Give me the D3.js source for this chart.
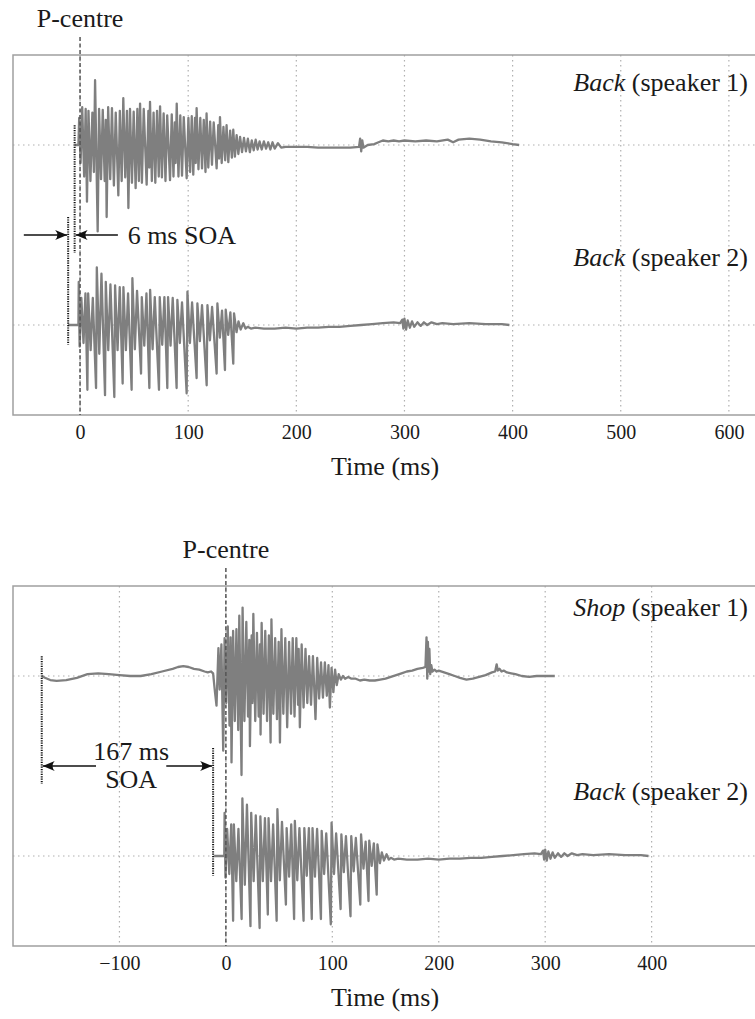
<!DOCTYPE html>
<html>
<head>
<meta charset="utf-8">
<script src="https://cdn.jsdelivr.net/npm/d3@7"></script>
<style>
  body { margin: 0; background: #fff; }
  text { font-family: "Liberation Serif", "Times New Roman", Times, serif; fill: #1a1a1a; }
</style>
</head>
<body>
<div id="chart"></div>
<script>
// Waveform samples: [time (ms) relative to the P-centre, amplitude]

// "Back", speaker 1
const backSpeaker1 = [
  [-5, 0], [-1.5, 0], [-0.8, 0.3], [0.5, -0.2], [2, 0.42], [3.8, -0.35], [5.2, 0.4], [6.4, -0.63],
  [7.8, 0.38], [9.6, -0.4], [11.4, 0.36], [12.8, -0.3], [13.9, 0.72], [16.3, -0.96], [17.6, 0.4],
  [19.4, -0.38], [21, 0.39], [22.8, -0.4], [23.8, 0.28], [24.6, -0.8], [26, 0.42], [27.9, -0.38],
  [29.5, 0.41], [31.3, -0.45], [33, 0.36], [35.4, -0.56], [36.8, 0.38], [38.5, -0.4], [40, 0.52],
  [41.8, -0.36], [43.4, 0.38], [44.7, -0.7], [46.2, 0.4], [48, -0.42], [49.6, 0.37], [51.4, -0.48],
  [53, 0.4], [54.4, -0.4], [55.5, 0.46], [57.2, -0.42], [58.9, 0.4], [61.6, -0.44], [63.2, 0.38],
  [64, -0.25], [64.7, 0.48], [66.4, -0.4], [68, 0.36], [69.6, -0.42], [71.2, 0.38], [72.8, -0.35],
  [74, 0.43], [75.7, -0.36], [77.3, 0.35], [79, -0.4], [80.6, 0.33], [83.2, -0.39], [84.8, 0.34],
  [86.4, -0.35], [87.6, 0.25], [88.4, -0.2], [89.4, 0.46], [91, -0.35], [92.7, 0.33], [94.3, -0.34],
  [95.9, 0.31], [98.6, -0.37], [100.2, 0.3], [101.8, -0.3], [103.3, 0.32], [104.7, -0.33],
  [106.3, 0.3], [107, -0.2], [107.8, 0.41], [109.5, -0.27], [111.2, 0.3], [112.8, -0.26],
  [114.4, 0.28], [116, -0.3], [117, 0.35], [118.6, -0.25], [120.3, 0.26], [122, -0.22], [123.6, 0.25],
  [126.3, -0.26], [127.8, 0.22], [128.6, -0.15], [129.4, 0.31], [131, -0.2], [132.6, 0.2],
  [134.2, -0.17], [135.5, 0.22], [137.1, -0.19], [138.8, 0.16], [140.4, -0.14], [141.7, 0.17],
  [143.2, -0.13], [144.8, 0.11], [146.4, -0.1], [148, 0.09], [149.8, -0.08], [151.6, 0.08],
  [153.4, -0.07], [155.2, 0.07], [157, -0.08], [158.8, 0.05], [160.6, -0.06], [162.4, 0.06],
  [164.2, -0.05], [166, 0.04], [168, -0.05], [170, 0.04], [172, -0.04], [174, 0.03], [176, -0.05],
  [178, 0.03], [180, -0.04], [183, 0.02], [186, -0.03], [190, -0.02], [200, -0.02], [210, -0.02],
  [220, -0.03], [230, -0.03], [240, -0.03], [250, -0.03], [258, -0.02], [259, 0.07], [260, -0.07],
  [261, 0.05], [262, -0.03], [266, 0], [272, 0.01], [276, 0.03], [280, 0.05], [285, 0.04], [290, 0.05],
  [295, 0.04], [300, 0.05], [310, 0.04], [320, 0.05], [330, 0.04], [340, 0.06], [345, 0.03],
  [350, 0.06], [360, 0.07], [370, 0.06], [380, 0.04], [390, 0.03], [400, 0.01], [406, 0]
];

// "Back", speaker 2 (same recording in both panels)
const backSpeaker2 = [
  [-11, 0], [-1.5, 0], [-1.2, 0.48], [-0.4, -0.24], [1.2, 0.3], [3.2, -0.2], [5, 0.35],
  [6.8, -0.72], [7.5, 0.35], [9.8, -0.28], [11.8, 0.3],
  [14.8, -0.7], [15.5, 0.64], [17.8, -0.32], [19.8, 0.57],
  [23.1, -0.78], [23.8, 0.48], [26.1, -0.28], [28.1, 0.45],
  [31.7, -0.8], [32.4, 0.44], [34.7, -0.28], [36.7, 0.42],
  [39.4, -0.65], [40.1, 0.42], [42.4, -0.28], [44.4, 0.35],
  [47.7, -0.72], [48.4, 0.52], [50.7, -0.27], [52.7, 0.38],
  [56.4, -0.54], [57.1, 0.31], [59.4, -0.23], [61.4, 0.35],
  [64.1, -0.7], [64.8, 0.39], [67.1, -0.27], [69.1, 0.31],
  [73, -0.72], [73.7, 0.31], [76, -0.22], [78, 0.31],
  [80.7, -0.7], [81.4, 0.31], [83.7, -0.23], [85.7, 0.3],
  [89.3, -0.7], [90, 0.28], [92.3, -0.2], [94.3, 0.25],
  [98.6, -0.76], [99.3, 0.37], [101.6, -0.2], [103.6, 0.25],
  [107.8, -0.59], [108.5, 0.24], [110.8, -0.18], [112.8, 0.22],
  [117.1, -0.67], [117.8, 0.22], [120.1, -0.17], [122.1, 0.2],
  [126.3, -0.54], [127, 0.24], [129.3, -0.14], [131.3, 0.16],
  [134, -0.5], [134.7, 0.17], [137, -0.11], [139, 0.14],
  [141.7, -0.43], [142.4, 0.13], [144.7, -0.08], [146.5, 0.04],
  [148.5, -0.05], [151, 0.02], [153, -0.04],
  [155, -0.02], [158, -0.04], [162, -0.03], [170, -0.04], [180, -0.04], [190, -0.03], [200, -0.04],
  [210, -0.03], [220, -0.03], [230, -0.02], [240, -0.02], [250, -0.01], [260, 0], [270, 0.01],
  [280, 0.02], [290, 0.03], [296, 0.02], [298, 0.06], [299, -0.04], [300, 0.07], [301.5, -0.05],
  [303, 0.05], [305, -0.03], [307, 0.04], [309, -0.02], [312, 0.03], [315, -0.01], [318, 0.03],
  [321, 0], [325, 0.03], [330, 0.01], [335, 0.02], [345, 0.01], [360, 0.02], [375, 0.01], [390, 0.01],
  [397, 0]
];

// "Shop", speaker 1
const shopSpeaker1 = [
  [-173, 0], [-170, -0.02], [-165, -0.045], [-159, -0.055], [-150, -0.045], [-140, -0.02],
  [-130, 0.02], [-120, 0.03], [-110, 0.02], [-100, 0.01], [-90, 0], [-80, 0], [-70, 0.02],
  [-60, 0.05], [-50, 0.08], [-45, 0.1], [-40, 0.11], [-35, 0.1], [-30, 0.08], [-25, 0.07],
  [-20, 0.05], [-17, 0.04], [-14, 0.05], [-12, 0.03], [-10.5, -0.15], [-8.8, -0.33], [-7, 0.31],
  [-5.8, -0.15], [-4.2, 0.35], [-2.5, -0.83], [-1.2, 0.42], [0.3, -0.3], [1.8, 0.55], [3.4, -0.55],
  [4.4, 0.43], [5.3, -0.96], [6.8, 0.5], [8.4, -0.5], [9.9, 0.52], [11.6, -0.6], [12.6, 0.67],
  [14.7, -1.1], [15.7, 0.76], [17.4, -0.5], [19.2, 0.6], [20.8, -0.45], [22, 0.4], [22.6, -0.78],
  [24.2, 0.45], [25, -0.3], [25.8, 0.69], [27.6, -0.5], [29.2, 0.48], [30.8, -0.45], [32, 0.35],
  [32.6, -0.65], [33.6, 0.59], [35.4, -0.42], [37, 0.5], [38.7, -0.5], [40.4, 0.45], [42, -0.74],
  [42.8, 0.63], [44.6, -0.42], [46.3, 0.42], [48, -0.48], [49.6, 0.38], [50.8, -0.74], [52.2, 0.52],
  [54, -0.42], [55.8, 0.42], [57.6, -0.57], [59.4, 0.38], [61.2, -0.42], [62.8, 0.42], [64.5, -0.45],
  [66.2, 0.42], [67.8, -0.32], [68.4, 0.3], [69.5, -0.57], [71.2, 0.35], [73, -0.35], [74.8, 0.3],
  [76.5, -0.3], [78.2, 0.22], [80, -0.32], [81.8, 0.22], [84.2, -0.48], [85.8, 0.2], [87.6, -0.25],
  [89.4, 0.15], [91.2, -0.24], [93, 0.15], [94.8, -0.22], [96.4, 0.12], [97.7, -0.35], [99.3, 0.09],
  [101, -0.18], [102.6, 0.07], [104.2, -0.1], [106, 0.02], [108, -0.04], [110, 0], [112, -0.03],
  [115, -0.01], [118, -0.03], [122, -0.03], [126, -0.05], [130, -0.04], [135, -0.05], [140, -0.05],
  [145, -0.04], [150, -0.03], [155, -0.01], [160, 0.01], [165, 0.03], [170, 0.05], [175, 0.06],
  [180, 0.08], [185, 0.09], [187.5, 0.1], [188.5, 0.43], [189.2, -0.03], [189.8, 0.38], [190.5, 0.05],
  [191.2, 0.3], [192, 0.02], [193, 0.12], [194, 0.05], [196, 0.07], [198, 0.05], [200, 0.06],
  [205, 0.04], [210, 0.02], [215, 0], [220, -0.02], [226, -0.04], [232, -0.03], [238, -0.01],
  [244, 0.01], [250, 0.04], [253, 0.05], [254.4, 0.13], [255.5, 0.06], [257, 0.08], [259, 0.05],
  [261, 0.06], [264, 0.04], [268, 0.03], [272, 0.02], [278, 0], [285, -0.01], [292, 0], [300, 0],
  [309, 0]
];

// axis ticks and ranges (ms)
const topTicks = [0, 100, 200, 300, 400, 500, 600];
const bottomTicks = [-100, 0, 100, 200, 300, 400];
const topDomain = [-62, 626];
const bottomDomain = [-200, 499];

// word labels for the two traces of each panel
const topWords = ["Back", "Back"];
const bottomWords = ["Shop", "Back"];
const speakerNames = ["(speaker 1)", "(speaker 2)"];

// onsets of speaker 1 / speaker 2 (ms)
const topOnsets = [-5, -11];
const bottomOnsets = [-173, -12];

const W = 755, H = 1019;

const svg = d3.select("#chart").append("svg")
    .attr("width", W)
    .attr("height", H);

// arrow heads
svg.append("defs").append("marker")
    .attr("id", "head")
    .attr("viewBox", "-13 -6 14 12")
    .attr("markerWidth", 14).attr("markerHeight", 12)
    .attr("markerUnits", "userSpaceOnUse")
    .attr("refX", 0).attr("refY", 0)
    .attr("orient", "auto")
    .append("path")
    .attr("d", "M0,0 L-12,-5 Q-7.5,0 -12,5 Z")
    .attr("fill", "#111");

const panels = [
    { top: 55, bottom: 415, domain: topDomain, ticks: topTicks, traces: [backSpeaker1, backSpeaker2],
      words: topWords, onsets: topOnsets, labelY: [91, 266], kind: "top" },
    { top: 586, bottom: 946, domain: bottomDomain, ticks: bottomTicks, traces: [shopSpeaker1, backSpeaker2],
      words: bottomWords, onsets: bottomOnsets, labelY: [616, 800], kind: "bottom" }
];

panels.forEach(function (p) {
    const x = d3.scaleLinear().domain(p.domain).range([13, 757]);
    // amplitude axis: speaker 1 centred at +1, speaker 2 at -1
    const y = d3.scaleLinear().domain([-2, 2]).range([p.bottom, p.top]);
    const g = svg.append("g");

    // dotted grid
    g.selectAll(".vgrid").data(p.ticks).enter().append("line")
        .attr("x1", d => x(d)).attr("x2", d => x(d))
        .attr("y1", p.top).attr("y2", p.bottom)
        .attr("stroke", "#b0b0b0").attr("stroke-width", 1.2)
        .attr("stroke-dasharray", "1.5,3.5");
    g.selectAll(".hgrid").data([1, -1]).enter().append("line")
        .attr("x1", 13).attr("x2", 757)
        .attr("y1", d => y(d)).attr("y2", d => y(d))
        .attr("stroke", "#b0b0b0").attr("stroke-width", 1.2)
        .attr("stroke-dasharray", "1.5,3.5");

    // frame (open on the right, the plot runs past the page)
    g.append("path")
        .attr("d", `M757,${p.top}H13V${p.bottom}H757`)
        .attr("fill", "none").attr("stroke", "#a0a0a0").attr("stroke-width", 1.5);

    // x axis labels
    const axis = g.append("g")
        .attr("transform", `translate(0,${p.bottom})`)
        .call(d3.axisBottom(x).tickValues(p.ticks).tickSize(0).tickPadding(10));
    axis.select(".domain").remove();
    axis.selectAll("text").attr("font-size", 20);

    g.append("text")
        .attr("x", 385).attr("y", p.bottom + 60)
        .attr("text-anchor", "middle").attr("font-size", 26)
        .text("Time (ms)");

    // waveforms
    const line = (off) => d3.line().x(d => x(d[0])).y(d => y(d[1] + off));
    p.traces.forEach(function (tr, i) {
        g.append("path")
            .datum(tr)
            .attr("d", line(i === 0 ? 1 : -1))
            .attr("fill", "none").attr("stroke", "#7f7f7f")
            .attr("stroke-width", 2.3).attr("stroke-linejoin", "round");
    });

    // P-centre
    g.append("line")
        .attr("x1", x(0)).attr("x2", x(0))
        .attr("y1", p.top - 18).attr("y2", p.bottom)
        .attr("stroke", "#555").attr("stroke-width", 1.5)
        .attr("stroke-dasharray", "4,2.5");
    g.append("text")
        .attr("x", x(0)).attr("y", p.top - 28)
        .attr("text-anchor", "middle").attr("font-size", 26)
        .text("P-centre");

    // onset markers
    g.append("line")
        .attr("x1", x(p.onsets[0])).attr("x2", x(p.onsets[0]))
        .attr("y1", y(1.22)).attr("y2", y(-0.2))
        .attr("stroke", "#111").attr("stroke-width", 2).attr("stroke-dasharray", "1.2,1.2");
    g.append("line")
        .attr("x1", x(p.onsets[1])).attr("x2", x(p.onsets[1]))
        .attr("y1", y(0.2)).attr("y2", y(-1.22))
        .attr("stroke", "#111").attr("stroke-width", 2).attr("stroke-dasharray", "1.2,1.2");

    // trace labels
    p.words.forEach(function (w, i) {
        const t = g.append("text")
            .attr("x", 748).attr("y", p.labelY[i])
            .attr("text-anchor", "end").attr("font-size", 26);
        t.append("tspan").attr("font-style", "italic").text(w);
        t.append("tspan").text(" " + speakerNames[i]);
    });

    // SOA arrows
    const ay = y(0);
    if (p.kind === "top") {
        g.append("line")
            .attr("x1", x(-52)).attr("x2", x(p.onsets[1]) - 1)
            .attr("y1", ay).attr("y2", ay)
            .attr("stroke", "#111").attr("stroke-width", 1.6).attr("marker-end", "url(#head)");
        g.append("line")
            .attr("x1", x(35)).attr("x2", x(p.onsets[0]) + 1)
            .attr("y1", ay).attr("y2", ay)
            .attr("stroke", "#111").attr("stroke-width", 1.6).attr("marker-end", "url(#head)");
        g.append("text")
            .attr("x", x(44)).attr("y", ay + 9)
            .attr("font-size", 26)
            .text("6 ms SOA");
    } else {
        g.append("line")
            .attr("x1", x(-122)).attr("x2", x(p.onsets[0]) + 1)
            .attr("y1", ay).attr("y2", ay)
            .attr("stroke", "#111").attr("stroke-width", 1.6).attr("marker-end", "url(#head)");
        g.append("line")
            .attr("x1", x(-56)).attr("x2", x(p.onsets[1]) - 1)
            .attr("y1", ay).attr("y2", ay)
            .attr("stroke", "#111").attr("stroke-width", 1.6).attr("marker-end", "url(#head)");
        g.append("text")
            .attr("x", x(-89)).attr("y", ay - 6)
            .attr("text-anchor", "middle").attr("font-size", 26)
            .text("167 ms");
        g.append("text")
            .attr("x", x(-89)).attr("y", ay + 22)
            .attr("text-anchor", "middle").attr("font-size", 26)
            .text("SOA");
    }
});
</script>
</body>
</html>
